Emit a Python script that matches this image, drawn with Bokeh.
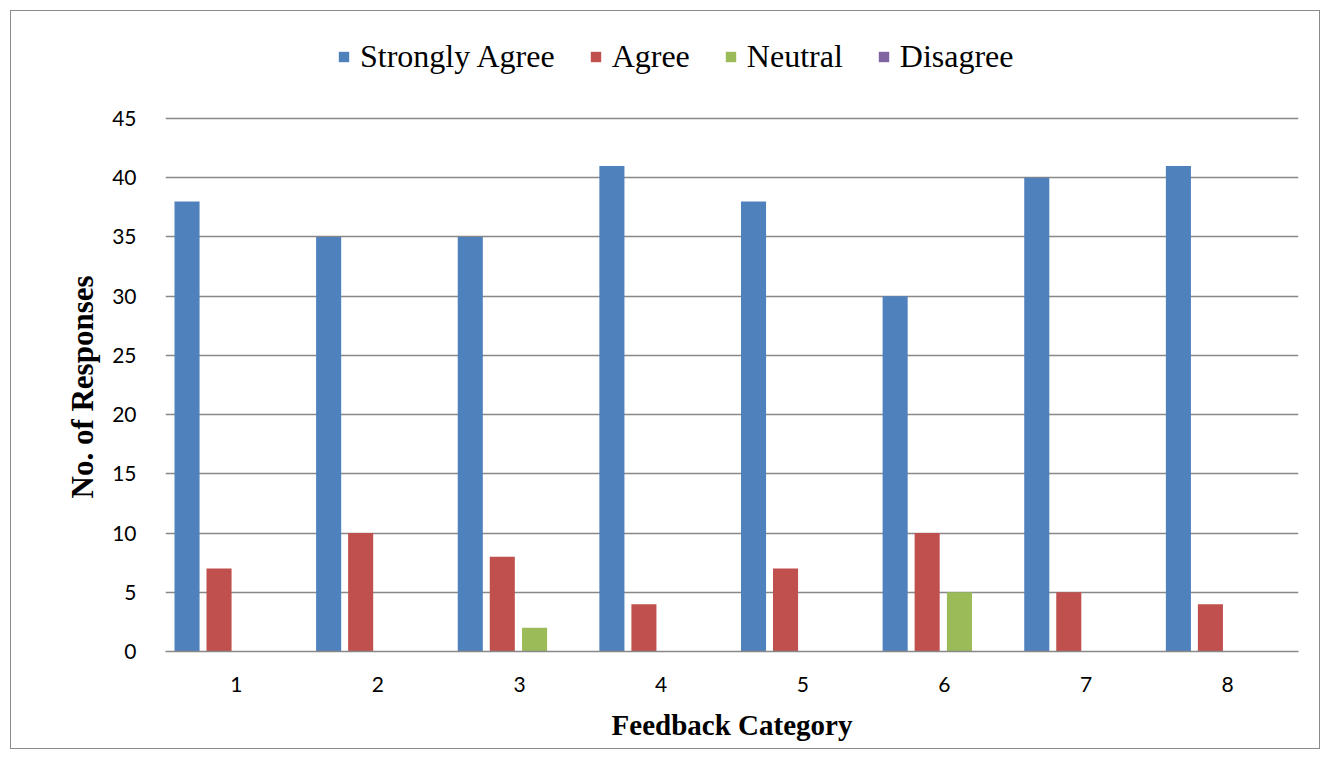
from bokeh.plotting import figure
from bokeh.models import (ColumnDataSource, Legend, LegendItem, FactorRange, FixedTicker, Title)
from bokeh.transform import dodge
from bokeh.embed import file_html
from bokeh.resources import INLINE

categories = ["1", "2", "3", "4", "5", "6", "7", "8"]
strongly_agree = [38, 35, 35, 41, 38, 30, 40, 41]
agree = [7, 10, 8, 4, 7, 10, 5, 4]
neutral = [0, 0, 2, 0, 0, 5, 0, 0]
disagree = [0, 0, 0, 0, 0, 0, 0, 0]
series_names = ["Strongly Agree", "Agree", "Neutral", "Disagree"]
colors = ["#4F81BD", "#C0504D", "#9BBB59", "#8064A2"]
y_ticks = [0, 5, 10, 15, 20, 25, 30, 35, 40, 45]

src = ColumnDataSource(dict(cat=categories, sa=strongly_agree, ag=agree, ne=neutral, di=disagree))

# frame extends above 45 to hold the legend (45 sits at the old frame top)
p = figure(width=1310, height=739, x_range=FactorRange(*categories), y_range=(0, 52.52),
           output_backend="svg", toolbar_location=None,
           min_border_left=154, min_border_right=23, min_border_top=18, min_border_bottom=99)
p.styles = {"border": "1px solid #8a8a8a", "box-sizing": "border-box",
            "margin-left": "10px", "margin-top": "10px"}
p.outline_line_color = None

offsets = [-0.348, -0.122, 0.106, 0.332]
fields = ["sa", "ag", "ne", "di"]
renderers = []
for f, off, c in zip(fields, offsets, colors):
    r = p.vbar(x=dodge("cat", off, range=p.x_range), top=f, width=0.177, source=src,
               fill_color=c, line_color=None)
    renderers.append(r)

legend = Legend(items=[LegendItem(label=n, renderers=[r]) for n, r in zip(series_names, renderers)],
                orientation="horizontal", location=(172, 576),
                label_text_font="Liberation Serif", label_text_font_size="32px",
                label_text_color="black",
                glyph_width=13, glyph_height=13, label_standoff=10, spacing=34,
                padding=0, margin=0, border_line_color=None, background_fill_alpha=0)
p.add_layout(legend, "center")

p.yaxis.ticker = FixedTicker(ticks=y_ticks)
p.ygrid.grid_line_color = "#888888"
p.ygrid.grid_line_width = 1.5
p.xgrid.grid_line_color = None

p.yaxis.axis_line_color = None
p.yaxis.major_tick_line_color = None
p.yaxis.minor_tick_line_color = None
p.yaxis.major_label_text_font = "Lato"
p.yaxis.major_label_text_font_size = "21px"
p.yaxis.major_label_text_color = "black"
p.yaxis.major_label_standoff = 23

ytitle = Title(text="No. of Responses", align="left", offset=153,
               text_font="Liberation Serif", text_font_style="bold",
               text_font_size="31px", text_color="black", standoff=19)
p.add_layout(ytitle, "left")

p.xaxis.axis_line_color = "#888888"
p.xaxis.axis_line_width = 1.5
p.xaxis.major_tick_line_color = None
p.xaxis.minor_tick_line_color = None
p.xaxis.major_label_text_font = "Lato"
p.xaxis.major_label_text_font_size = "21px"
p.xaxis.major_label_text_color = "black"
p.xaxis.major_label_standoff = 19
p.xaxis.axis_label = "Feedback Category"
p.xaxis.axis_label_text_font = "Liberation Serif"
p.xaxis.axis_label_text_font_style = "bold"
p.xaxis.axis_label_text_font_size = "29px"
p.xaxis.axis_label_text_color = "black"
p.xaxis.axis_label_standoff = 14

p.x_range.range_padding = 0
p.x_range.group_padding = 0

open("out.html", "w").write(file_html(p, INLINE))
